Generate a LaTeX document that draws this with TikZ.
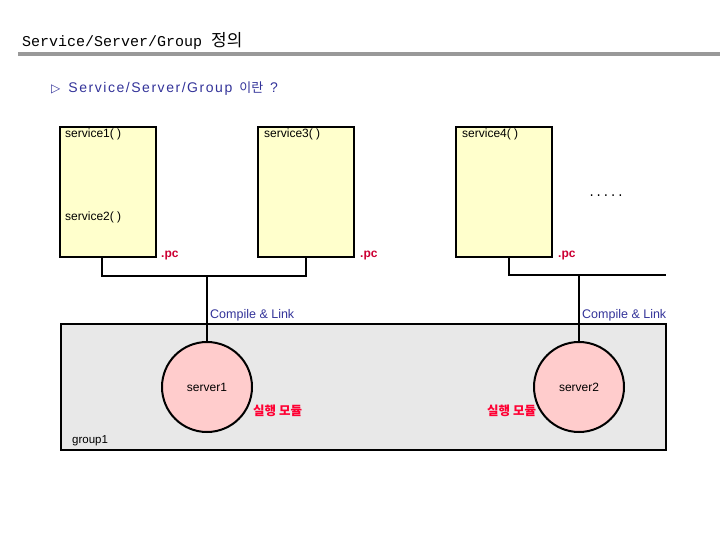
\documentclass[tikz,border=0pt]{standalone}
\usepackage{fontspec}
\setmainfont{Liberation Sans}
\newfontfamily\monofont{Liberation Mono}
\newfontfamily\krfont{Noto Sans CJK KR}
\newfontfamily\symfont{DejaVu Sans}
\newfontfamily\widefont[LetterSpace=11]{Liberation Sans}
\usetikzlibrary{positioning,calc}
\definecolor{svcyellow}{HTML}{FFFFCC}
\definecolor{srvpink}{HTML}{FFCCCC}
\definecolor{grpgray}{HTML}{E8E8E8}
\definecolor{rulegray}{HTML}{999999}
\definecolor{navy}{HTML}{333399}
\definecolor{pcred}{HTML}{CC0033}
\definecolor{modred}{HTML}{FF0033}

\begin{document}
\begin{tikzpicture}[x=1pt,y=-1pt,
    lbl/.style={font=\fontsize{12}{14}\selectfont,inner sep=0pt},
    svcbox/.style={draw,line width=2pt,fill=svcyellow,minimum width=96pt,minimum height=130pt},
    srvnode/.style={draw,line width=2pt,fill=srvpink,circle,minimum size=90pt,inner sep=0pt,font=\fontsize{12}{14}\selectfont},
    wire/.style={line width=2pt},
    pclbl/.style={font=\fontsize{12}{14}\selectfont\bfseries,text=pcred,inner sep=0pt,anchor=west},
    cllbl/.style={font=\fontsize{12.5}{14}\selectfont,text=navy,inner sep=0pt,anchor=west},
    modlbl/.style={font=\krfont\fontsize{12.5}{14}\selectfont\bfseries,text=modred,inner sep=0pt,anchor=west}]
  \useasboundingbox (0,0) rectangle (720,540);

  % title
  \node[anchor=base west,inner sep=0pt] (title) at (22,47)
    {{\monofont\fontsize{15}{17}\selectfont Service/Server/Group }{\krfont\fontsize{17}{19}\selectfont 정의}};
  \draw[rulegray,line width=4pt] (18,54) -- (720,54);
  \node[anchor=base west,inner sep=0pt,text=navy] (subtitle) at (51,93)
    {{\symfont\fontsize{12}{14}\selectfont ▷}\hspace{8pt}{\widefont\fontsize{14}{16}\selectfont Service/Server/Group}\hspace{7pt}{\krfont\fontsize{13}{15}\selectfont 이란}\hspace{7pt}{\fontsize{14}{16}\selectfont ?}};

  % services
  \node[svcbox] (s1) at (108,192) {};
  \node[svcbox] (s3) at (306,192) {};
  \node[svcbox] (s4) at (504,192) {};
  \node[lbl,anchor=north west] (s1lbl) at (65,129) {service1( )};
  \node[lbl,anchor=north west] (s2lbl) at (65,212) {service2( )};
  \node[lbl,anchor=north west] (s3lbl) at (264,129) {service3( )};
  \node[lbl,anchor=north west] (s4lbl) at (462,129) {service4( )};
  \node[pclbl] (pc1) at (161,256) {.pc};
  \node[pclbl] (pc3) at (360,256) {.pc};
  \node[pclbl] (pc4) at (558,256) {.pc};
  \node[lbl,anchor=center] (more) at (606,196) {{\monofont .....}};

  % group and servers
  \node[draw,line width=2pt,fill=grpgray,minimum width=605pt,minimum height=126pt] (grp) at (363.5,387) {};
  \node[lbl,anchor=west,font=\fontsize{11.5}{13}\selectfont] (grplbl) at (72,441) {group1};
  \node[srvnode] (srv1) at (207,387) {server1};
  \node[srvnode] (srv2) at (579,387) {server2};
  \node[modlbl] (mod1) at (253,411) {실행 모듈};
  \node[modlbl] (mod2) at (487,411) {실행 모듈};

  % links
  \coordinate (bus2) at (666,275);
  \draw[wire] ([xshift=-6pt]s1.south) -- ++(0,18) coordinate (bus1) -| (s3.south);
  \draw[wire] (srv1.north) -- (srv1.north |- bus1);
  \draw[wire] ([xshift=5pt]s4.south) |- (bus2);
  \draw[wire] (srv2.north) -- (srv2.north |- bus2);
  \node[cllbl] (cl1) at (210,315) {Compile \& Link};
  \node[cllbl] (cl2) at (582,315) {Compile \& Link};
\end{tikzpicture}
\end{document}
